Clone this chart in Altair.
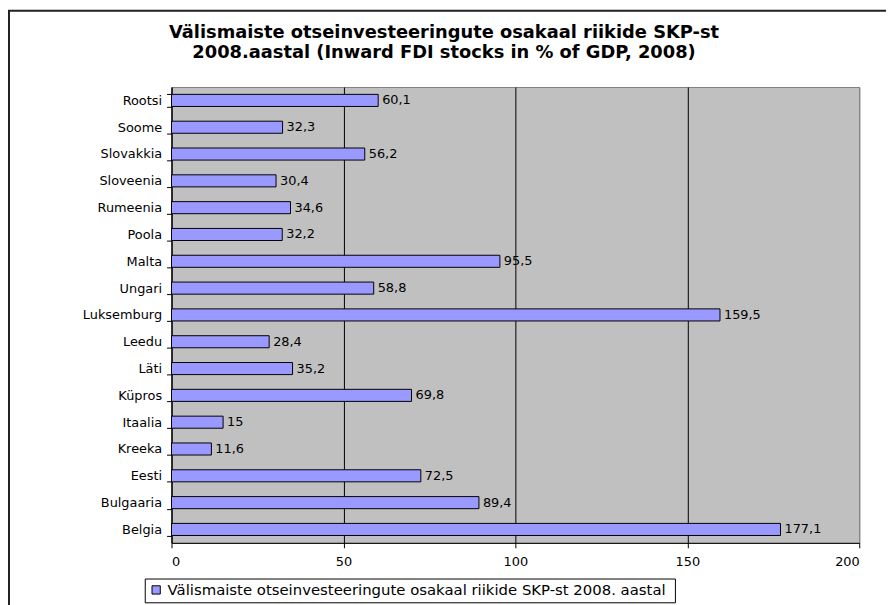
import altair as alt
import pandas as pd

countries = ["Rootsi", "Soome", "Slovakkia", "Sloveenia", "Rumeenia", "Poola", "Malta",
             "Ungari", "Luksemburg", "Leedu", "Läti", "Küpros", "Itaalia", "Kreeka",
             "Eesti", "Bulgaaria", "Belgia"]
values = [60.1, 32.3, 56.2, 30.4, 34.6, 32.2, 95.5, 58.8, 159.5, 28.4, 35.2, 69.8,
          15, 11.6, 72.5, 89.4, 177.1]
x_ticks = [0, 50, 100, 150, 200]
series_name = "Välismaiste otseinvesteeringute osakaal riikide SKP-st  2008. aastal"
title_lines = ["Välismaiste otseinvesteeringute osakaal riikide SKP-st",
               "2008.aastal (Inward FDI stocks in % of GDP, 2008)"]

labels = [str(v).replace(".", ",") for v in values]
df = pd.DataFrame({"country": countries, "value": values, "label": labels,
                   "series": [series_name] * len(countries)})

FONT = "DejaVu Sans"

y = alt.Y("country:N", sort=countries,
          scale=alt.Scale(paddingInner=0.55, paddingOuter=0.275),
          axis=alt.Axis(title=None, tickBand="extent", tickSize=5, tickColor="black",
                        domainColor="black", labelColor="black", labelFont=FONT,
                        labelFontSize=13, labelPadding=5, grid=False))
x = alt.X("value:Q", scale=alt.Scale(domain=[0, 200], nice=False),
          axis=alt.Axis(values=x_ticks, title=None, grid=True,
                        gridColor={"condition": {"test": "datum.value == 200", "value": "#808080"},
                                   "value": "black"},
                        tickSize=5, tickColor="black", domainColor="black",
                        labelColor="black", labelFont=FONT, labelFontSize=13,
                        labelPadding=8))

bars = alt.Chart(df).mark_bar(stroke="black", strokeWidth=1).encode(
    x=x, y=y,
    color=alt.Color("series:N", scale=alt.Scale(range=["#9999FF"]),
                    legend=alt.Legend(title=None, orient="none", legendX=-27, legendY=496,
                                      direction="horizontal", strokeColor="black",
                                      padding=4, labelFont=FONT, labelFontSize=15,
                                      labelColor="black", symbolType="square",
                                      symbolSize=70, symbolStrokeColor="black",
                                      symbolStrokeWidth=1, symbolOpacity=1,
                                      labelLimit=800))
)

text = alt.Chart(df).mark_text(align="left", dx=4, font=FONT, fontSize=13,
                               color="black").encode(x=x, y=y, text="label:N")

one = pd.DataFrame({"a": [0]})

frame = alt.Chart(one).mark_rect(
    fill="transparent", stroke="#222222", strokeWidth=2
).encode(x=alt.value(-164), x2=alt.value(760), y=alt.value(-77), y2=alt.value(560))

title = alt.Chart(one).mark_text(
    text=title_lines, font=FONT, fontSize=18, fontWeight="bold", align="center",
    baseline="alphabetic", lineHeight=20, color="black"
).encode(x=alt.value(275), y=alt.value(-49))

chart = alt.layer(bars, text, frame, title).properties(
    width=694, height=460,
    autosize=alt.AutoSizeParams(type="none"),
    padding={"left": 165, "top": 77, "right": 27, "bottom": 60},
    background="white",
).configure_view(fill="#C0C0C0", stroke="#808080", strokeWidth=1)

chart.save("out.html", embed_options={"renderer": "svg", "actions": False})
